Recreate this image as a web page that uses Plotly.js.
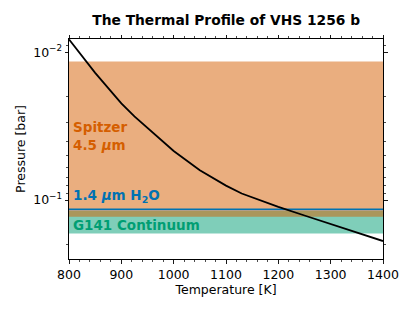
<!DOCTYPE html>
<html>
<head>
<meta charset="utf-8">
<script src="https://cdn.plot.ly/plotly-3.0.1.min.js"></script>
<style>html,body{margin:0;padding:0;background:#fff;}#chart{width:415px;height:311px;}</style>
</head>
<body>
<div id="chart"></div>
<script>
// Temperature-pressure profile
var temperature = [800, 825, 850, 875, 900, 925, 950, 1000, 1050, 1100, 1130, 1200, 1250, 1300, 1350, 1400];
var pressure    = [0.0082, 0.0107, 0.0138, 0.0175, 0.0222, 0.0272, 0.0325, 0.0466, 0.0628, 0.0798, 0.0902, 0.111, 0.127, 0.145, 0.166, 0.189];

// Contribution regions (pressure, bar)
var xSpan = [800, 1400];
var spitzerBand = [0.01156, 0.1297];
var g141Band = [0.1186, 0.168];
var h2oLevel = 0.1155;

var labels = ['Spitzer<br>4.5 <i>μ</i>m', '1.4 <i>μ</i>m H<sub>2</sub>O', 'G141 Continuum'];

var yTickVals = [0.01, 0.1];
var yTickText = ['10<sup>−2</sup>', '10<sup>−1</sup>'];
var yMinorVals = [0.009, 0.02, 0.03, 0.04, 0.05, 0.06, 0.07, 0.08, 0.09, 0.2];

function band(b, color) {
  return {
    x: [xSpan[0], xSpan[1], xSpan[1], xSpan[0], xSpan[0]],
    y: [b[0], b[0], b[1], b[1], b[0]],
    mode: 'lines', fill: 'toself', fillcolor: color,
    line: {width: 0}, hoverinfo: 'skip', showlegend: false
  };
}

var traces = [
  band(g141Band, 'rgba(0,158,115,0.5)'),
  band(spitzerBand, 'rgba(213,94,0,0.5)'),
  {x: xSpan, y: [h2oLevel, h2oLevel], mode: 'lines', line: {color: '#0072B2', width: 1.6}, showlegend: false},
  {x: temperature, y: pressure, mode: 'lines', line: {color: 'black', width: 1.8}, showlegend: false}
];

var font = {family: 'DejaVu Sans', size: 12.5, color: 'black'};

var layout = {
  width: 415, height: 311,
  margin: {l: 68.5, r: 31.7, t: 38.5, b: 52},
  paper_bgcolor: 'white', plot_bgcolor: 'white',
  font: font,
  title: {text: '<b>The Thermal Profile of VHS 1256 b</b>', font: {family: 'DejaVu Sans', size: 13.8, color: 'black'}, x: 0.545, xanchor: 'center', y: 0.935, yanchor: 'middle'},
  xaxis: {
    range: [800, 1400], dtick: 100, tick0: 800,
    showline: true, linecolor: 'black', linewidth: 1, mirror: 'ticks',
    ticks: 'outside', ticklen: 3.5, tickwidth: 0.9, tickcolor: 'black',
    minor: {dtick: 20, ticks: 'outside', ticklen: 2, tickwidth: 0.7, tickcolor: 'black'},
    showgrid: false, zeroline: false,
    tickfont: font,
    title: {text: 'Temperature [K]', font: font, standoff: 2}
  },
  yaxis: {
    type: 'log', range: [Math.log10(0.25), Math.log10(0.00815)],
    tickvals: yTickVals, ticktext: yTickText,
    showline: true, linecolor: 'black', linewidth: 1, mirror: 'ticks',
    ticks: 'outside', ticklen: 3.5, tickwidth: 0.9, tickcolor: 'black',
    minor: {tickvals: yMinorVals, ticks: 'outside', ticklen: 2, tickwidth: 0.7, tickcolor: 'black'},
    showgrid: false, zeroline: false,
    tickfont: font,
    title: {text: 'Pressure [bar]', font: font, standoff: 4}
  },
  annotations: [
    {text: '<b>' + labels[0] + '</b>', xref: 'paper', yref: 'paper', x: 0.005, y: 0.558, xanchor: 'left', yanchor: 'middle', align: 'left', showarrow: false, font: {family: 'DejaVu Sans', size: 13.5, color: '#D55E00'}},
    {text: '<b>' + labels[1] + '</b>', xref: 'paper', yref: 'paper', x: 0.005, y: 0.285, xanchor: 'left', yanchor: 'middle', align: 'left', showarrow: false, font: {family: 'DejaVu Sans', size: 13.5, color: '#0072B2'}},
    {text: '<b>' + labels[2] + '</b>', xref: 'paper', yref: 'paper', x: 0.005, y: 0.155, xanchor: 'left', yanchor: 'middle', align: 'left', showarrow: false, font: {family: 'DejaVu Sans', size: 13.5, color: '#009E73'}}
  ]
};

Plotly.newPlot('chart', traces, layout, {displayModeBar: false, staticPlot: true});
</script>
</body>
</html>
